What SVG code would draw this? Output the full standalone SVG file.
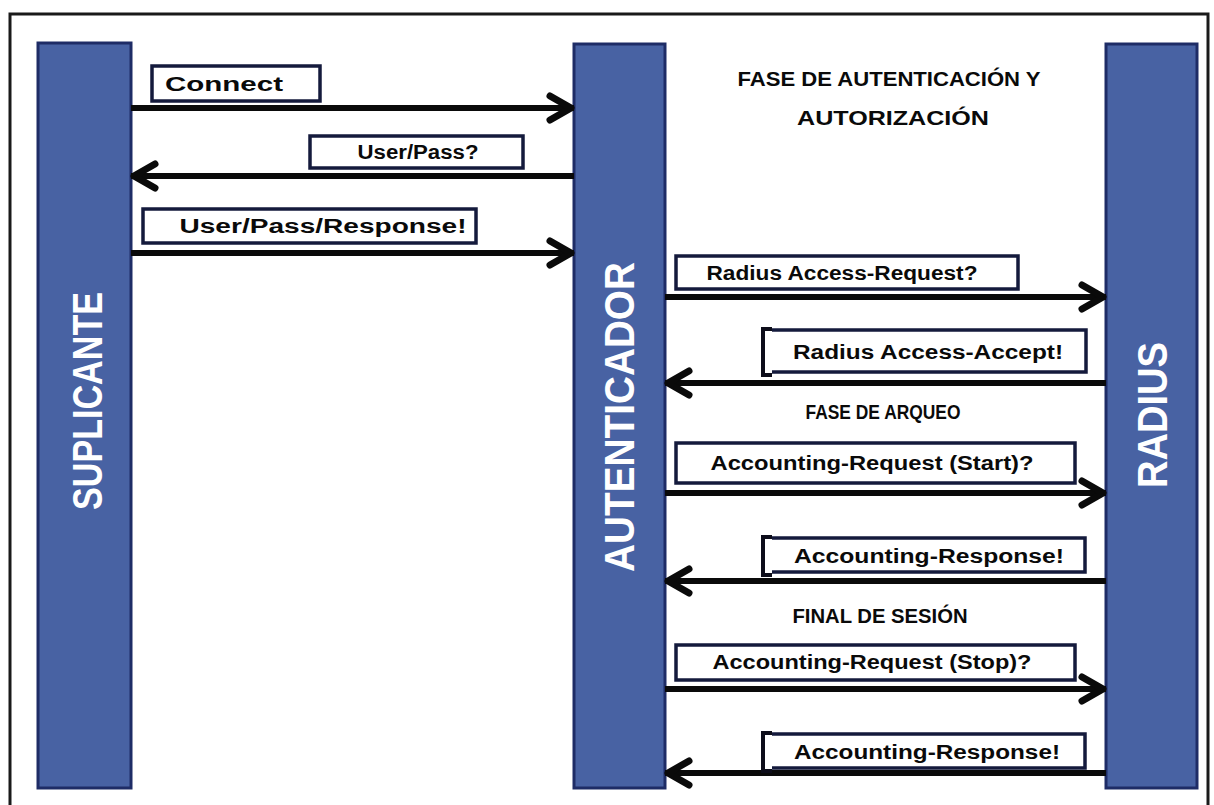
<svg xmlns="http://www.w3.org/2000/svg" width="1214" height="805" viewBox="0 0 1214 805">
  <defs>
    <style>
      .frame { fill: none; stroke: #1a1a1a; stroke-width: 3; }
      .lane { fill: #4862a3; stroke: #1e2c66; stroke-width: 3; }
      .lane-label { font-family: "Liberation Sans", Arial, sans-serif; font-weight: bold; font-size: 42px; fill: #ffffff; text-anchor: middle; }
      .msg-box { fill: #ffffff; stroke: #141a3c; stroke-width: 3.5; }
      .bracket { fill: none; stroke: #0d0d1a; stroke-width: 4; }
      .msg { font-family: "Liberation Sans", Arial, sans-serif; font-weight: bold; font-size: 20px; fill: #0a0a0a; text-anchor: middle; }
      .phase { font-family: "Liberation Sans", Arial, sans-serif; font-weight: bold; font-size: 21px; fill: #0a0a0a; text-anchor: middle; }
      .flow { stroke: #0a0a0a; stroke-width: 6; fill: none; marker-end: url(#head); }
    </style>
    <marker id="head" markerUnits="userSpaceOnUse" viewBox="-32 -18 36 36" markerWidth="36" markerHeight="36" refX="0" refY="0" orient="auto">
      <path d="M-24,-12 L-3,0 L-24,12" fill="none" stroke="#0a0a0a" stroke-width="7" stroke-linejoin="round" stroke-linecap="round"/>
    </marker>
  </defs>

  <rect class="frame" x="10" y="14" width="1198" height="800"/>

  <!-- lifelines -->
  <g id="suplicante">
    <rect class="lane" x="38" y="43" width="93" height="745"/>
    <text class="lane-label" transform="translate(102,401) rotate(-90)" textLength="218" lengthAdjust="spacingAndGlyphs">SUPLICANTE</text>
  </g>
  <g id="autenticador">
    <rect class="lane" x="574" y="44" width="91" height="744"/>
    <text class="lane-label" transform="translate(634,417) rotate(-90)" textLength="310" lengthAdjust="spacingAndGlyphs">AUTENTICADOR</text>
  </g>
  <g id="radius">
    <rect class="lane" x="1106" y="44" width="91" height="744"/>
    <text class="lane-label" transform="translate(1167,415) rotate(-90)" textLength="146" lengthAdjust="spacingAndGlyphs">RADIUS</text>
  </g>

  <!-- phase headings -->
  <g id="phase-auth">
    <text class="phase" x="889" y="86" textLength="303" lengthAdjust="spacingAndGlyphs">FASE DE AUTENTICACIÓN Y</text>
    <text class="phase" x="893" y="125" textLength="192" lengthAdjust="spacingAndGlyphs">AUTORIZACIÓN</text>
  </g>
  <g id="phase-arqueo">
    <text class="phase" x="883" y="419" textLength="155" lengthAdjust="spacingAndGlyphs">FASE DE ARQUEO</text>
  </g>
  <g id="phase-final">
    <text class="phase" x="880" y="623" textLength="175" lengthAdjust="spacingAndGlyphs">FINAL DE SESIÓN</text>
  </g>

  <!-- message connectors -->
  <g id="connectors">
    <line class="flow" x1="131" y1="108" x2="574" y2="108"/>
    <line class="flow" x1="574" y1="176" x2="131" y2="176"/>
    <line class="flow" x1="131" y1="253" x2="574" y2="253"/>
    <line class="flow" x1="665" y1="297" x2="1106" y2="297"/>
    <line class="flow" x1="1106" y1="383" x2="665" y2="383"/>
    <line class="flow" x1="665" y1="493" x2="1106" y2="493"/>
    <line class="flow" x1="1106" y1="581" x2="665" y2="581"/>
    <line class="flow" x1="665" y1="689" x2="1106" y2="689"/>
    <line class="flow" x1="1106" y1="773" x2="665" y2="773"/>
  </g>

  <!-- message labels -->
  <g id="msg-connect">
    <rect class="msg-box" x="152" y="66" width="168" height="35"/>
    <text class="msg" x="224" y="91" textLength="118" lengthAdjust="spacingAndGlyphs">Connect</text>
  </g>
  <g id="msg-userpass">
    <rect class="msg-box" x="310" y="136" width="213" height="32"/>
    <text class="msg" x="418" y="159" textLength="121" lengthAdjust="spacingAndGlyphs">User/Pass?</text>
  </g>
  <g id="msg-userpass-response">
    <rect class="msg-box" x="143" y="209" width="333" height="34"/>
    <text class="msg" x="323" y="233" textLength="287" lengthAdjust="spacingAndGlyphs">User/Pass/Response!</text>
  </g>
  <g id="msg-access-request">
    <rect class="msg-box" x="676" y="256" width="342" height="33"/>
    <text class="msg" x="842" y="280" textLength="271" lengthAdjust="spacingAndGlyphs">Radius Access-Request?</text>
  </g>
  <!-- reply boxes: open on the left, closed by a bracket -->
  <g id="msg-access-accept">
    <path class="msg-box" d="M772,330 H1086 V372 H772"/>
    <path class="bracket" d="M772,329 H763 V375 H772"/>
    <text class="msg" x="928" y="359" textLength="270" lengthAdjust="spacingAndGlyphs">Radius Access-Accept!</text>
  </g>
  <g id="msg-acct-start">
    <rect class="msg-box" x="676" y="443" width="399" height="40"/>
    <text class="msg" x="872" y="470" textLength="323" lengthAdjust="spacingAndGlyphs">Accounting-Request (Start)?</text>
  </g>
  <g id="msg-acct-response-1">
    <path class="msg-box" d="M772,538 H1085 V572 H772"/>
    <path class="bracket" d="M772,537 H763 V575 H772"/>
    <text class="msg" x="929" y="563" textLength="270" lengthAdjust="spacingAndGlyphs">Accounting-Response!</text>
  </g>
  <g id="msg-acct-stop">
    <rect class="msg-box" x="676" y="645" width="399" height="35"/>
    <text class="msg" x="872" y="669" textLength="319" lengthAdjust="spacingAndGlyphs">Accounting-Request (Stop)?</text>
  </g>
  <g id="msg-acct-response-2">
    <path class="msg-box" d="M772,734 H1085 V768 H772"/>
    <path class="bracket" d="M772,733 H763 V771 H772"/>
    <text class="msg" x="927" y="759" textLength="266" lengthAdjust="spacingAndGlyphs">Accounting-Response!</text>
  </g>
</svg>
